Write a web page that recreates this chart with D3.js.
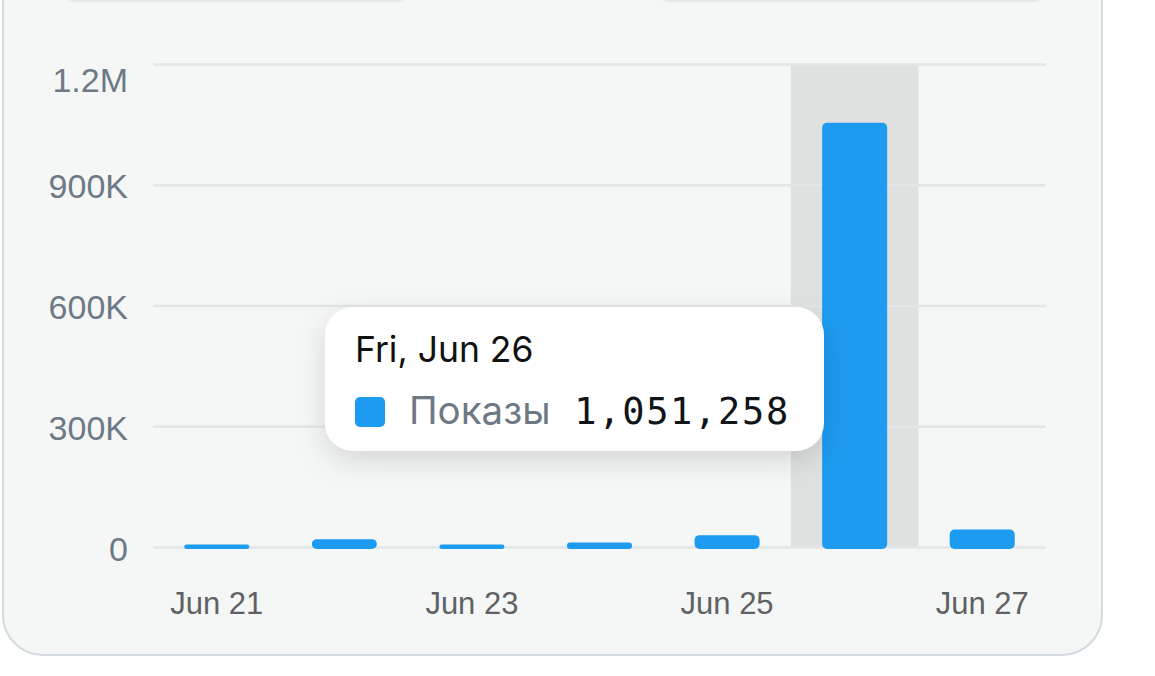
<!DOCTYPE html>
<html>
<head>
<meta charset="utf-8">
<script src="https://cdn.jsdelivr.net/npm/d3@7/dist/d3.min.js"></script>
<style>
  html, body { margin: 0; padding: 0; background: #ffffff; }
  svg { display: block; }
</style>
</head>
<body>
<svg id="chart" width="1155" height="676"></svg>
<script>
// ---- data ----
const categories = ["Jun 21", "Jun 22", "Jun 23", "Jun 24", "Jun 25", "Jun 26", "Jun 27"];
const impressions = [4000, 17000, 4000, 8500, 27000, 1051258, 41000];
const yTicks = [0, 300000, 600000, 900000, 1200000];
const yTickLabels = ["0", "300K", "600K", "900K", "1.2M"];
const xTickLabels = ["Jun 21", "Jun 23", "Jun 25", "Jun 27"];
const seriesName = "Показы";
const tooltipTitle = "Fri, Jun 26";
const highlightIndex = 5;

const svg = d3.select("#chart");
const defs = svg.append("defs");

const shadow = defs.append("filter").attr("id", "tipShadow")
  .attr("x", "-30%").attr("y", "-40%").attr("width", "160%").attr("height", "190%");
shadow.append("feDropShadow").attr("dx", 0).attr("dy", 10).attr("stdDeviation", 14)
  .attr("flood-color", "#000").attr("flood-opacity", 0.13);

const btnShadow = defs.append("filter").attr("id", "btnShadow")
  .attr("x", "-10%").attr("y", "-50%").attr("width", "120%").attr("height", "200%");
btnShadow.append("feDropShadow").attr("dx", 0).attr("dy", 1).attr("stdDeviation", 1.5)
  .attr("flood-color", "#000").attr("flood-opacity", 0.12);

// ---- card ----
svg.append("rect")
  .attr("x", 3).attr("y", -60).attr("width", 1099).attr("height", 715)
  .attr("rx", 40).attr("ry", 40)
  .attr("fill", "#f5f7f7").attr("stroke", "#d3dbe0").attr("stroke-width", 2);

// partial buttons at the top
svg.append("rect").attr("x", 62).attr("y", -40).attr("width", 348).attr("height", 40)
  .attr("rx", 14).attr("fill", "#f7f9f9").attr("filter", "url(#btnShadow)");
svg.append("rect").attr("x", 656).attr("y", -40).attr("width", 390).attr("height", 40)
  .attr("rx", 14).attr("fill", "#f7f9f9").attr("filter", "url(#btnShadow)");

// ---- scales ----
const plotLeft = 153, plotRight = 1046, plotTop = 64.5, plotBottom = 547.5;
const x = d3.scaleBand().domain(categories).range([plotLeft, plotRight]).paddingInner(0).paddingOuter(0);
const y = d3.scaleLinear().domain([0, 1200000]).range([plotBottom, plotTop]);

// highlight band
svg.append("rect")
  .attr("x", x(categories[highlightIndex]))
  .attr("y", y(1200000))
  .attr("width", x.bandwidth())
  .attr("height", y(0) - y(1200000))
  .attr("fill", "#dfe1e1");

// gridlines
svg.append("g").selectAll("line").data(yTicks).join("line")
  .attr("x1", plotLeft).attr("x2", plotRight)
  .attr("y1", d => y(d)).attr("y2", d => y(d))
  .attr("stroke", "#e2e6e8").attr("stroke-width", 2.5);

// y labels
svg.append("g").selectAll("text").data(yTicks).join("text")
  .attr("x", 128)
  .attr("y", (d, i) => i === yTicks.length - 1 ? y(d) + 15 : y(d) + 1)
  .attr("dy", "0.36em")
  .attr("text-anchor", "end")
  .attr("font-family", "Liberation Sans, Arial, sans-serif")
  .attr("font-size", 34)
  .attr("fill", "#6d7a86")
  .text((d, i) => yTickLabels[i]);

// bars
const barW = x.bandwidth() * 0.51;
svg.append("g").selectAll("rect").data(impressions).join("rect")
  .attr("x", (d, i) => x(categories[i]) + (x.bandwidth() - barW) / 2)
  .attr("y", d => y(d) - 1.5)
  .attr("width", barW)
  .attr("height", d => y(0) - y(d) + 3)
  .attr("rx", d => Math.min(5, (y(0) - y(d) + 3) / 2))
  .attr("fill", "#1d9bf0");

// x labels
svg.append("g").selectAll("text").data(xTickLabels).join("text")
  .attr("x", d => x(d) + x.bandwidth() / 2)
  .attr("y", 603)
  .attr("dy", "0.36em")
  .attr("text-anchor", "middle")
  .attr("font-family", "Liberation Sans, Arial, sans-serif")
  .attr("font-size", 31)
  .attr("fill", "#5f6163")
  .text(d => d);

// ---- tooltip ----
const tip = svg.append("g");
tip.append("rect")
  .attr("x", 325).attr("y", 307).attr("width", 499).attr("height", 144)
  .attr("rx", 28).attr("fill", "#ffffff").attr("filter", "url(#tipShadow)");
tip.append("text")
  .attr("x", 355).attr("y", 362)
  .attr("font-family", "Inter, 'Noto Sans', sans-serif")
  .attr("font-size", 35.5)
  .attr("fill", "#111111")
  .text(tooltipTitle);
tip.append("rect")
  .attr("x", 355).attr("y", 397).attr("width", 30).attr("height", 30)
  .attr("rx", 5).attr("fill", "#1d9bf0");
tip.append("text")
  .attr("x", 409).attr("y", 424)
  .attr("font-family", "Inter, 'Noto Sans', sans-serif")
  .attr("font-size", 38.5)
  .attr("fill", "#6d7a86")
  .text(seriesName);
tip.append("text")
  .attr("x", 790).attr("y", 424)
  .attr("text-anchor", "end")
  .attr("font-family", "'DejaVu Sans Mono', monospace")
  .attr("font-size", 37)
  .attr("letter-spacing", 1.7)
  .attr("fill", "#0f1419")
  .text(d3.format(",")(impressions[highlightIndex]));
</script>
</body>
</html>
